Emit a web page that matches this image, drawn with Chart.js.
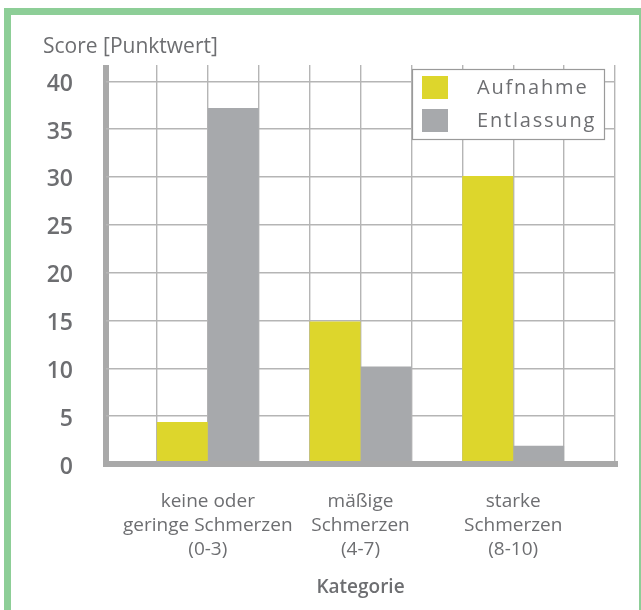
<!DOCTYPE html>
<html>
<head>
<meta charset="utf-8">
<script src="https://cdn.jsdelivr.net/npm/chart.js@4.4.1/dist/chart.umd.min.js"></script>
<style>
html, body { margin: 0; padding: 0; background: #ffffff; }
#wrap { position: relative; width: 641px; height: 610px; overflow: hidden; background: #ffffff; }
#frame { position: absolute; left: 4px; top: 8px; width: 637px; height: 640px; box-sizing: border-box;
  border-left: 7px solid #8dce97; border-top: 7px solid #8dce97; border-right: 2px solid #8dce97; }
#chart { position: absolute; left: 0; top: 0; }
</style>
</head>
<body>
<div id="wrap">
  <div id="frame"></div>
  <canvas id="chart" width="641" height="610"></canvas>
</div>
<script>
// ---- data ----
const categories = [
  ["keine oder", "geringe Schmerzen", "(0-3)"],
  ["mäßige", "Schmerzen", "(4-7)"],
  ["starke", "Schmerzen", "(8-10)"]
];
const seriesNames = ["Aufnahme", "Entlassung"];
const aufnahme = [4.4, 14.9, 30.1];
const entlassung = [37.2, 10.2, 1.9];
const yTicks = [0, 5, 10, 15, 20, 25, 30, 35, 40];
const yTitle = "Score [Punktwert]";
const xTitle = "Kategorie";

// ---- styles ----
const YELLOW = "#ddd62c";
const GREY = "#a7a9ac";
const TEXT = "#6d6e71";
const GRID = "#b5b5b5";
const AXIS = "#a9a9a9";
const FONT = "'Open Sans', 'Noto Sans', sans-serif";

// each category occupies slot 3*i+2 on a 10-column grid
const slotOf = i => 3 * i + 2;
const toPoints = arr => arr.map((v, i) => ({ x: slotOf(i), y: v }));

const legendPlugin = {
  id: 'boxLegend',
  afterDatasetsDraw(chart) {
    const ctx = chart.ctx;
    const a = chart.chartArea;
    const w = 192, h = 70;
    const left = a.right - 203, top = a.top + 4;
    ctx.save();
    ctx.fillStyle = "#ffffff";
    ctx.fillRect(left, top, w, h);
    ctx.strokeStyle = "#9a9a9a";
    ctx.lineWidth = 1.2;
    ctx.strokeRect(left + 0.5, top + 0.5, w, h);
    chart.data.datasets.forEach((ds, i) => {
      const rowY = top + 7 + i * 33;
      ctx.fillStyle = ds.backgroundColor;
      ctx.fillRect(left + 10, rowY, 26, 23);
      ctx.fillStyle = TEXT;
      ctx.font = "20px " + FONT;
      ctx.letterSpacing = "1.8px";
      ctx.textBaseline = "middle";
      ctx.textAlign = "left";
      ctx.fillText(ds.label, left + 65, rowY + 12);
    });
    ctx.restore();
  }
};

new Chart(document.getElementById('chart'), {
  type: 'bar',
  data: {
    datasets: [
      { label: seriesNames[0], data: toPoints(aufnahme), backgroundColor: YELLOW, borderWidth: 0 },
      { label: seriesNames[1], data: toPoints(entlassung), backgroundColor: GREY, borderWidth: 0 }
    ]
  },
  options: {
    responsive: false,
    animation: false,
    devicePixelRatio: 1,
    categoryPercentage: 2,
    barPercentage: 1,
    layout: { padding: { left: 43, top: 34, right: 26, bottom: 0 } },
    plugins: {
      legend: { display: false },
      tooltip: { enabled: false },
      title: {
        display: true,
        text: yTitle,
        align: 'start',
        color: TEXT,
        font: { family: FONT, size: 21, weight: '500', lineHeight: 1.2 },
        padding: { top: 0, bottom: 5.8 }
      }
    },
    scales: {
      x: {
        type: 'linear',
        offset: false,
        min: 0,
        max: 10,
        grid: {
          display: true,
          offset: false,
          drawTicks: false,
          color: ctx => (ctx.tick && ctx.tick.value === 0) ? AXIS : GRID,
          lineWidth: ctx => (ctx.tick && ctx.tick.value === 0) ? 6 : 1.4
        },
        border: { display: true, width: 6, color: AXIS, z: 1 },
        ticks: {
          stepSize: 1,
          autoSkip: false,
          maxRotation: 0,
          padding: 26,
          color: TEXT,
          font: { family: FONT, size: 19, lineHeight: '24px' },
          callback: v => {
            const i = (v - 2) / 3;
            return (Number.isInteger(i) && categories[i]) ? categories[i] : '';
          }
        },
        title: {
          display: true,
          text: xTitle,
          color: TEXT,
          font: { family: FONT, size: 19, weight: '600', lineHeight: 1.2 },
          padding: { top: 0, bottom: 10.6 }
        },
        afterFit: s => { s.height = 146; }
      },
      y: {
        min: 0,
        max: 41.7,
        grid: { display: true, drawTicks: false, color: GRID, lineWidth: 1.4 },
        border: { display: false },
        afterBuildTicks: s => { s.ticks = yTicks.map(v => ({ value: v })); },
        ticks: {
          padding: 33,
          labelOffset: 3,
          color: TEXT,
          font: { family: FONT, size: 23, weight: '600' }
        },
        afterFit: s => { s.width = 63; }
      }
    }
  },
  plugins: [legendPlugin]
});
</script>
</body>
</html>
